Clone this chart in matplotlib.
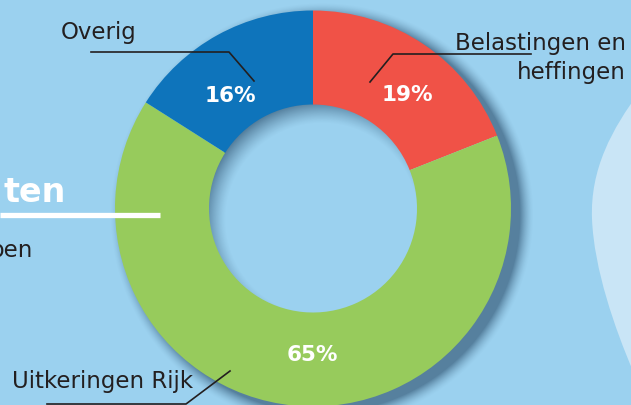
import numpy as np
import matplotlib
matplotlib.use("Agg")
import matplotlib.pyplot as plt
from matplotlib.path import Path
from matplotlib.patches import PathPatch

# ---- data ----
categories = ["Belastingen en\nheffingen", "Uitkeringen Rijk", "Overig"]
values = [19, 65, 16]
colors = ["#f05247", "#97cb5c", "#0e74bb"]

W, H = 631, 406
BG = "#9bd1ef"
DARK = "#231f20"

fig = plt.figure(figsize=(W / 100, H / 100), dpi=100)
fig.patch.set_facecolor(BG)
ax = fig.add_axes([0, 0, 1, 1])
ax.set_facecolor(BG)

def Y(y):
    return H - y

cx, cy = 313.0, 209.5      # image coordinates
R, r = 198.0, 104.0

# ---- decorative light blob at right ----
verts = [(640, Y(92)), (612, Y(130)), (590, Y(170)), (592, Y(220)),
         (594, Y(270)), (615, Y(330)), (633, Y(372)),
         (640, Y(372)), (640, Y(92)), (640, Y(92))]
codes = [Path.MOVETO, Path.CURVE4, Path.CURVE4, Path.CURVE4,
         Path.CURVE4, Path.CURVE4, Path.CURVE4,
         Path.LINETO, Path.LINETO, Path.CLOSEPOLY]
ax.add_patch(PathPatch(Path(verts, codes), facecolor="#c9e5f6", edgecolor="none", zorder=0.5))

# ---- shadows (decoration) ----
xs = np.arange(W) + 0.5
ys = np.arange(H) + 0.5
X, YY = np.meshgrid(xs, ys)
dist = np.hypot(X - cx, YY - cy)
sh_rgb = np.array([40, 75, 105]) / 255.0

# outer drop shadow
d_out = np.hypot(X - (cx + 9), YY - (cy + 6)) - R
a_out = 0.6 * np.clip(1 - d_out / 14.0, 0, 1) ** 1.6
a_out[dist < R - 2] = 0
# inner hole shadow
d_in = np.hypot(X - (cx + 9), YY - (cy + 11))
a_in = 0.7 * np.clip((d_in - r + 8) / 24.0, 0, 1) ** 1.3
a_in[dist > r + 1] = 0
alpha = np.maximum(a_out, a_in)
img = np.zeros((H, W, 4))
img[..., :3] = sh_rgb
img[..., 3] = alpha
ax.imshow(img, extent=(0, W, 0, H), origin="upper", zorder=1, interpolation="bilinear")

# ---- donut ----
wedges, _ = ax.pie(values, colors=colors, startangle=90, counterclock=False,
                   radius=R, center=(cx, Y(cy)),
                   wedgeprops=dict(width=R - r, edgecolor="none"), frame=True)
for w in wedges:
    w.set_zorder(2)

# percentage labels
pct_pos = [(407, 95), (312, 355), (230, 96)]
for v, (px, py) in zip(values, pct_pos):
    ax.text(px, Y(py), f"{v}%", color="white", fontsize=15.5, fontweight="bold",
            ha="center", va="center", zorder=5)

# category labels + leader lines
lw = 1.2
# Belastingen en heffingen
ax.text(626, Y(58), categories[0], fontsize=16.5, color=DARK, ha="right", va="center",
        linespacing=1.35, zorder=5)
ax.plot([370, 393, 531], [Y(83), Y(55), Y(55)], color=DARK, lw=lw, zorder=4)
# Uitkeringen Rijk
ax.text(12, Y(382), categories[1], fontsize=16.5, color=DARK, ha="left", va="center", zorder=5)
ax.plot([47, 186, 230], [Y(405), Y(405), Y(372)], color=DARK, lw=lw, zorder=4)
# Overig
ax.text(61, Y(33), categories[2], fontsize=16.5, color=DARK, ha="left", va="center", zorder=5)
ax.plot([91, 229, 254], [Y(53), Y(53), Y(82)], color=DARK, lw=lw, zorder=4)

# ---- cropped surrounding text ----
ax.text(66, Y(202), "ten", fontsize=24, fontweight="bold", color="white",
        ha="right", va="baseline", zorder=5)
ax.plot([0, 160], [Y(216), Y(216)], color="white", lw=3.8, solid_capstyle="butt", zorder=5)
ax.text(33, Y(250), "pen", fontsize=16.5, color=DARK, ha="right", va="center", zorder=5)

ax.set_xlim(0, W)
ax.set_ylim(0, H)
ax.set_aspect("auto")
ax.axis("off")

fig.savefig("out.png", dpi=100, facecolor=BG)
